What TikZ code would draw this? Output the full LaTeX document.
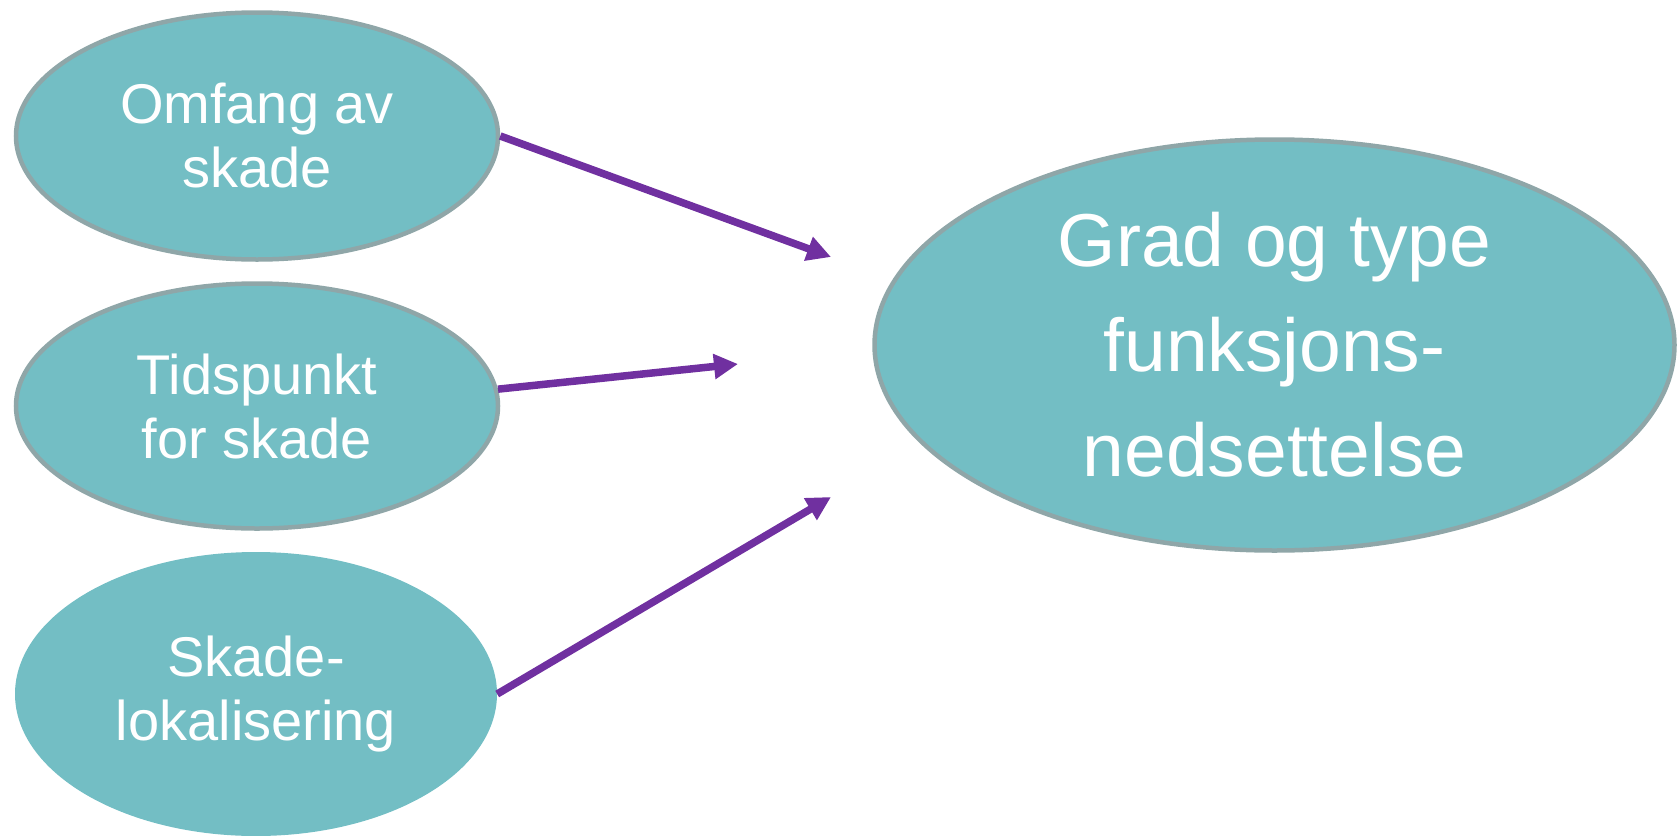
\documentclass[tikz,border=0pt]{standalone}
\usepackage{fontspec}
\setmainfont{Liberation Sans}
\usetikzlibrary{shapes.geometric,arrows.meta}
\definecolor{tealfill}{RGB}{115,190,196}
\definecolor{rimgray}{RGB}{143,166,168}
\definecolor{arrowpurple}{RGB}{112,48,160}
\tikzset{
  cause/.style={ellipse, fill=tealfill, inner sep=0pt, align=center,
    text=white, font=\fontsize{56}{64}\selectfont},
  rimmed/.style={draw=rimgray, line width=4.5pt},
  effect/.style={ellipse, fill=tealfill, draw=rimgray, line width=4.5pt,
    inner sep=0pt, align=center, text=white,
    font=\fontsize{75}{105}\selectfont},
  link/.style={draw=arrowpurple, line width=7.5pt,
    -{Triangle[length=24pt,width=24pt]}}
}
\begin{document}
\begin{tikzpicture}[x=1pt,y=-1pt]
  \useasboundingbox (0,0) rectangle (1677,835);
  \clip (0,0) rectangle (1677,835);
  % three influencing factors on the left
  \node[cause, rimmed, minimum width=482pt, minimum height=247pt] (omfang)
    at (257,136) {Omfang av\\skade};
  \node[cause, rimmed, minimum width=482pt, minimum height=245pt] (tid)
    at (257,406) {Tidspunkt\\for skade};
  \node[cause, minimum width=482pt, minimum height=284pt] (lok)
    at (256,694) {Skade-\\lokalisering};
  % outcome on the right
  \node[effect, minimum width=800pt, minimum height=411pt] (grad)
    at (1274.5,345) {Grad og type\\funksjons-\\nedsettelse};
  % free arrow ends
  \coordinate (t1) at (831,257);
  \coordinate (t2) at (738,364);
  \coordinate (t3) at (831,497);
  \draw[link] (omfang.east) -- (t1);
  \draw[link] (tid.4.5) -- (t2);
  \draw[link] (lok.east) -- (t3);
\end{tikzpicture}
\end{document}
